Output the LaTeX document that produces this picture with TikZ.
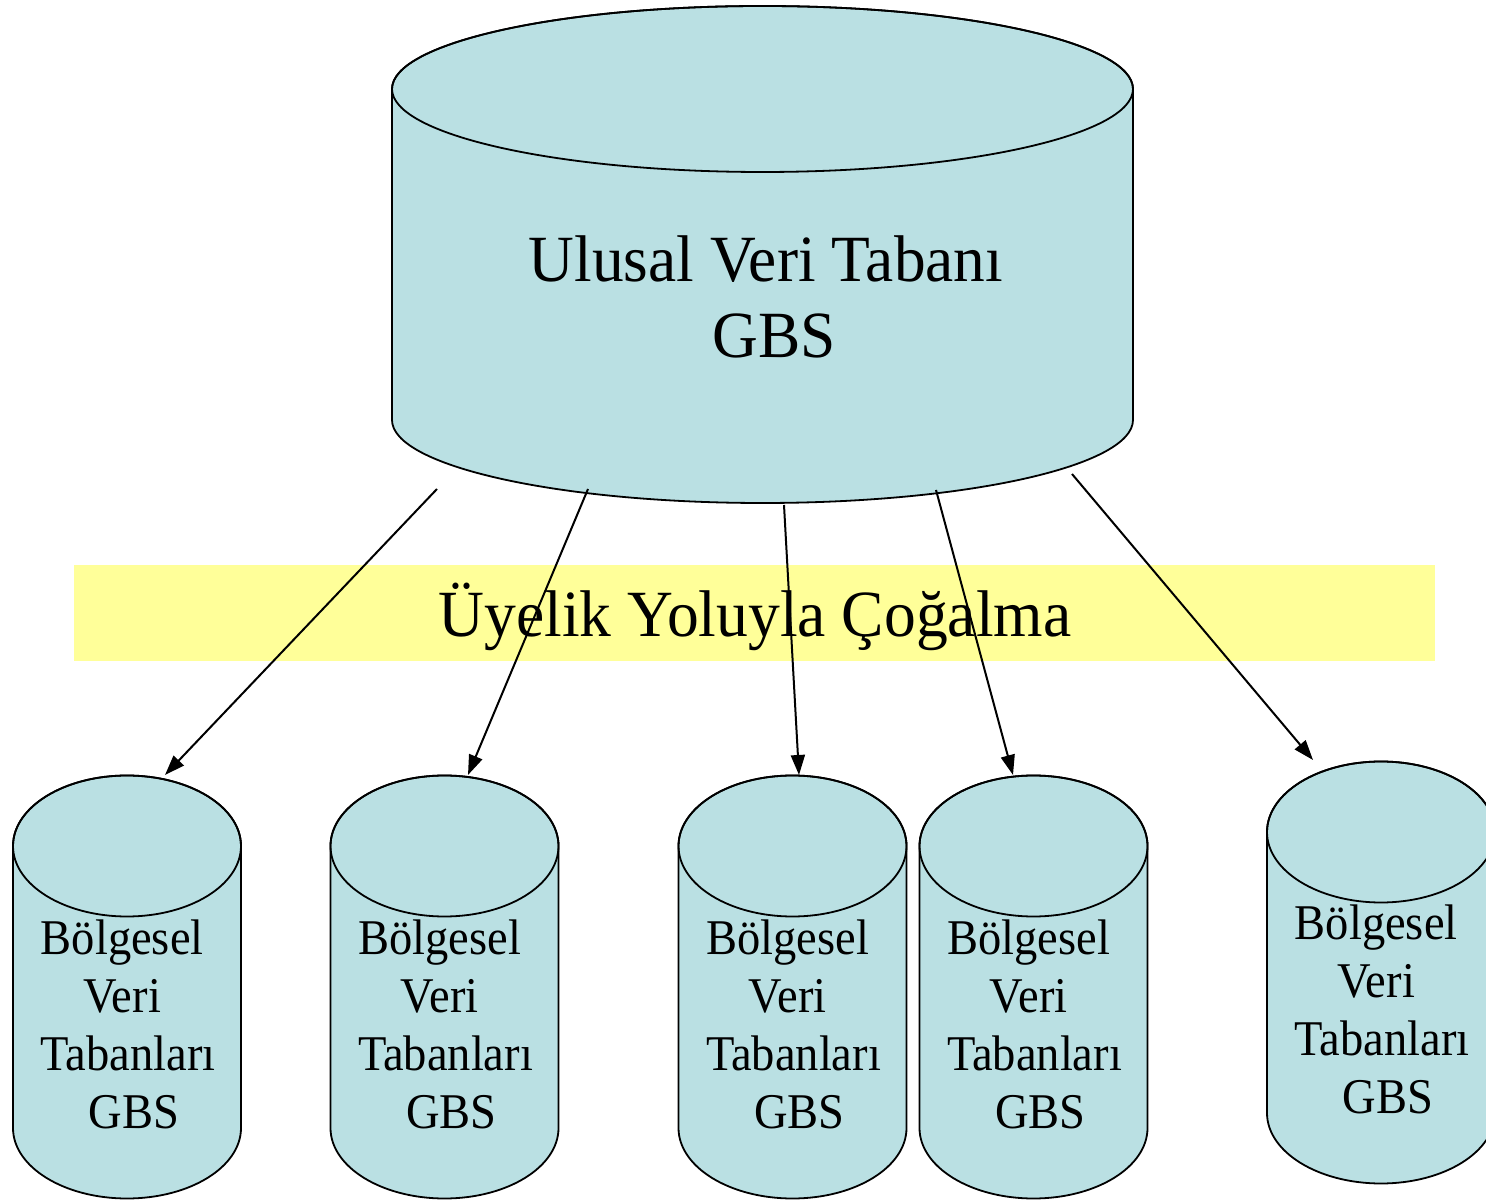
\documentclass[tikz,border=0pt]{standalone}
\usepackage{fontspec}
\setmainfont{Liberation Serif}
\usetikzlibrary{arrows.meta}
\definecolor{cylfill}{RGB}{186,224,227}
\definecolor{bandfill}{RGB}{255,255,153}
% \dbcyl{cx}{top centre y}{bottom centre y}{rx}{ry}
\newcommand{\dbcyl}[5]{%
  \path[cylline,fill=cylfill] (#1-#4,#2) -- (#1-#4,#3)
    arc[start angle=180,end angle=360,x radius=#4,y radius=#5]
    -- (#1+#4,#2)
    arc[start angle=0,end angle=180,x radius=#4,y radius=#5] -- cycle;
  \draw[cylline] (#1,#2) ellipse[x radius=#4,y radius=#5];}
\newcommand{\regtext}{\scalebox{0.93}[1]{\begin{tabular}[t]{@{}c@{}}Bölgesel\kern0.25em\\Veri\kern0.25em\\Tabanları\\\kern0.25em GBS\end{tabular}}}
\tikzset{
  cylline/.style={draw=black,line width=1.8pt},
  conn/.style={line width=2pt,-{Triangle[length=20pt,width=14pt]}},
  bigtext/.style={anchor=base,inner sep=0pt,font=\fontsize{66}{76}\selectfont},
  smalltext/.style={anchor=base,inner sep=0pt,font=\fontsize{50}{57.7}\selectfont},
}
\begin{document}
\begin{tikzpicture}[x=1pt,y=1pt]
\useasboundingbox (0,0) rectangle (1486,1200);
\clip (0,0) rectangle (1486,1200);
% big cylinder
\dbcyl{762.5}{1111}{780}{370.5}{83}
\node[bigtext] (ulusal) at (766,918) {\scalebox{0.96}[1]{\begin{tabular}[t]{@{}c@{}}Ulusal Veri Tabanı\\\kern0.25em GBS\end{tabular}}};
% small cylinders
\dbcyl{127}{354}{72}{114}{70.5}
\dbcyl{444.5}{354}{72}{114}{70.5}
\dbcyl{792.5}{354}{72}{114}{70.5}
\dbcyl{1033.5}{354}{72}{114}{70.5}
\dbcyl{1381}{368}{87}{114}{70.5}
\node[smalltext] (b1) at (128,245) {\regtext};
\node[smalltext] (b2) at (445.5,245) {\regtext};
\node[smalltext] (b3) at (793.5,245) {\regtext};
\node[smalltext] (b4) at (1034.5,245) {\regtext};
\node[smalltext] (b5) at (1382,260) {\regtext};
% band
\fill[bandfill] (74,539) rectangle (1435,635);
\node[bigtext] (band) at (755,563) {\scalebox{0.963}[1]{Üyelik Yoluyla Çoğalma}};
% connectors
\coordinate (s1) at (437,711); \coordinate (e1) at (165,425);
\coordinate (s2) at (588,711); \coordinate (e2) at (468,425);
\coordinate (s3) at (784,695); \coordinate (e3) at (799,425);
\coordinate (s4) at (936,710); \coordinate (e4) at (1013,425);
\coordinate (s5) at (1072,726); \coordinate (e5) at (1313,440);
\foreach \i in {1,...,5}{\draw[conn] (s\i) -- (e\i);}
\end{tikzpicture}
\end{document}
